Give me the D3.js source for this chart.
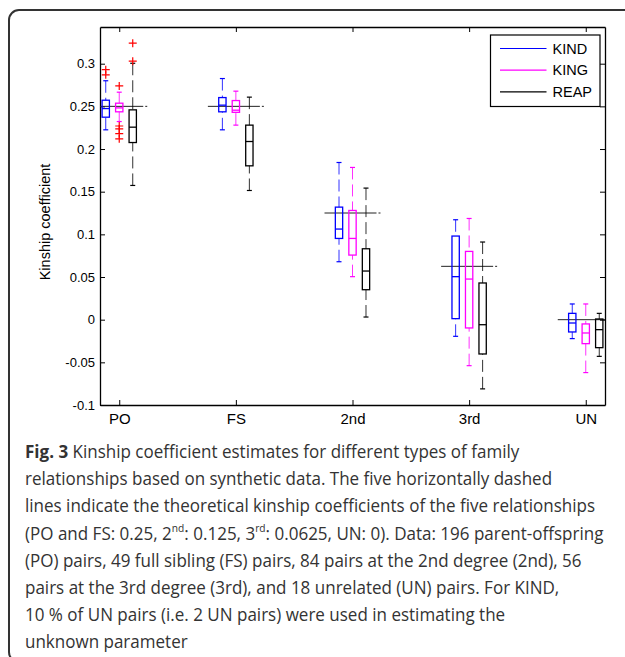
<!DOCTYPE html>
<html><head><meta charset="utf-8">
<script src="https://cdn.jsdelivr.net/npm/d3@7"></script>
<style>
body{margin:0;background:#fff;}
svg{display:block;}
.mat text{font-family:"Liberation Sans", Arimo, Arial, Helvetica, sans-serif !important;}
</style></head><body>
<svg id="chart" width="625" height="657"></svg>
<script>
const categories = ["PO","FS","2nd","3rd","UN"];
const methods = ["KIND","KING","REAP"];
const methodColors = ["#0000ff","#ff00ff","#000000"];
const theoretical = [0.25, 0.25, 0.125, 0.0625, 0];
// per category: [lower whisker, Q1, median, Q3, upper whisker]
const kindStats = [
  [0.2225, 0.2373, 0.2474, 0.2572, 0.2800],
  [0.2225, 0.2436, 0.2514, 0.2603, 0.2826],
  [0.0679, 0.0952, 0.1062, 0.1319, 0.1842],
  [-0.0195, 0.0012, 0.0504, 0.0980, 0.1171],
  [-0.0222, -0.0144, -0.0039, 0.0074, 0.0184]
];
const kingStats = [
  [0.2322, 0.2436, 0.2482, 0.2537, 0.2666],
  [0.2280, 0.2430, 0.2455, 0.2568, 0.2678],
  [0.0504, 0.0757, 0.0952, 0.1280, 0.1784],
  [-0.0539, -0.0097, 0.0476, 0.0800, 0.1186],
  [-0.0620, -0.0281, -0.0156, -0.0050, 0.0184]
];
const reapStats = [
  [0.1573, 0.2076, 0.2256, 0.2459, 0.3005],
  [0.1514, 0.1803, 0.2088, 0.2280, 0.2608],
  [0.0031, 0.0351, 0.0570, 0.0831, 0.1542],
  [-0.0811, -0.0402, -0.0059, 0.0430, 0.0910],
  [-0.0430, -0.0328, -0.0117, 0.0008, 0.0074]
];
const kindOutliers = [[0.293, 0.287], [], [], [], []];
const kingOutliers = [[0.274, 0.227, 0.2235, 0.218, 0.212], [], [], [], []];
const reapOutliers = [[0.324, 0.303], [], [], [], []];
const yTicks = [-0.1, -0.05, 0, 0.05, 0.1, 0.15, 0.2, 0.25, 0.3];
const yLabel = "Kinship coefficient";
const captionLines = [
  [{t:"Fig. 3", b:true}, {t:" Kinship coefficient estimates for different types of family"}],
  [{t:"relationships based on synthetic data. The five horizontally dashed"}],
  [{t:"lines indicate the theoretical kinship coefficients of the five relationships"}],
  [{t:"(PO and FS: 0.25, 2"}, {t:"nd", sup:true}, {t:": 0.125, 3"}, {t:"rd", sup:true}, {t:": 0.0625, UN: 0). Data: 196 parent-offspring"}],
  [{t:"(PO) pairs, 49 full sibling (FS) pairs, 84 pairs at the 2nd degree (2nd), 56"}],
  [{t:"pairs at the 3rd degree (3rd), and 18 unrelated (UN) pairs. For KIND,"}],
  [{t:"10 % of UN pairs (i.e. 2 UN pairs) were used in estimating the"}],
  [{t:"unknown parameter"}]
];

const allStats = [kindStats, kingStats, reapStats];
const allOutliers = [kindOutliers, kingOutliers, reapOutliers];

const svg = d3.select("#chart");
const M = {left:100, right:605, top:27, bottom:405};
const x = d3.scaleLinear().domain([0.835, 5.165]).range([M.left, M.right]);
const y = d3.scaleLinear().domain([-0.1, 0.343]).range([M.bottom, M.top]);
const offset = 0.1157, boxHalf = 0.0314, capHalf = 0.0214;
const font = "Liberation Sans";

// outer frame
svg.append("rect").attr("x",9).attr("y",10).attr("width",700).attr("height",652)
  .attr("rx",10).attr("fill","none").attr("stroke","#333").attr("stroke-width",2);

svg.append("defs").append("clipPath").attr("id","plotclip")
  .append("rect").attr("x",M.left).attr("y",M.top).attr("width",M.right-M.left).attr("height",M.bottom-M.top);

const chart = svg.append("g").attr("class","mat");

// axes
const yFmt = d => String(+d.toFixed(3));
const gl = chart.append("g").attr("transform",`translate(${M.left},0)`)
  .call(d3.axisLeft(y).tickValues(yTicks).tickFormat(yFmt).tickSizeInner(-5).tickSizeOuter(0).tickPadding(5));
const gr = chart.append("g").attr("transform",`translate(${M.right},0)`)
  .call(d3.axisRight(y).tickValues(yTicks).tickFormat("").tickSizeInner(-5).tickSizeOuter(0));
const gb = chart.append("g").attr("transform",`translate(0,${M.bottom})`)
  .call(d3.axisBottom(x).tickValues([1,2,3,4,5]).tickFormat((d,i)=>categories[i]).tickSizeInner(-5).tickSizeOuter(0).tickPadding(8));
const gt = chart.append("g").attr("transform",`translate(0,${M.top})`)
  .call(d3.axisTop(x).tickValues([1,2,3,4,5]).tickFormat("").tickSizeInner(-5).tickSizeOuter(0));
[gl,gr,gb,gt].forEach(g=>{
  g.attr("font-family", font);
  g.selectAll("path.domain").attr("stroke","#000").attr("stroke-width",1.3);
  g.selectAll(".tick line").attr("stroke","#000").attr("stroke-width",1);
  g.selectAll("text").attr("fill","#000");
});
gl.selectAll("text").attr("font-size",13);
gb.selectAll("text").attr("font-size",15);

// y label
chart.append("text").attr("transform","translate(50,222) rotate(-90)")
  .attr("text-anchor","middle").attr("font-size",14.5)
  .text(yLabel);

const plot = chart.append("g").attr("clip-path","url(#plotclip)");

// theoretical lines
plot.selectAll("line.theo").data(theoretical).join("line")
  .attr("x1",(d,i)=>x(i+1-0.24)).attr("x2",(d,i)=>x(i+1+0.24))
  .attr("y1",d=>y(d)).attr("y2",d=>y(d))
  .attr("stroke","#222").attr("stroke-width",1).attr("stroke-dasharray","52,2");

// boxes
allStats.forEach((stats, m) => {
  const col = methodColors[m];
  const g = plot.append("g");
  stats.forEach((s, i) => {
    const cx = i + 1 + (m - 1) * offset;
    const [lo, q1, med, q3, hi] = s;
    g.append("line").attr("x1",x(cx)).attr("x2",x(cx)).attr("y1",y(hi)).attr("y2",y(q3))
      .attr("stroke",col).attr("stroke-width",1).attr("stroke-dasharray","12,5").attr("opacity",0.8);
    g.append("line").attr("x1",x(cx)).attr("x2",x(cx)).attr("y1",y(lo)).attr("y2",y(q1))
      .attr("stroke",col).attr("stroke-width",1).attr("stroke-dasharray","12,5").attr("opacity",0.8);
    [lo, hi].forEach(v => g.append("line").attr("x1",x(cx-capHalf)).attr("x2",x(cx+capHalf))
      .attr("y1",y(v)).attr("y2",y(v)).attr("stroke",col).attr("stroke-width",1.2));
    g.append("rect").attr("x",x(cx-boxHalf)).attr("width",x(cx+boxHalf)-x(cx-boxHalf))
      .attr("y",y(q3)).attr("height",y(q1)-y(q3)).attr("fill","none")
      .attr("stroke",col).attr("stroke-width",1.3);
    g.append("line").attr("x1",x(cx-boxHalf)).attr("x2",x(cx+boxHalf))
      .attr("y1",y(med)).attr("y2",y(med)).attr("stroke",col).attr("stroke-width",1.3);
    allOutliers[m][i].forEach(v => {
      const px = x(cx), py = y(v);
      g.append("path").attr("d",`M${px-4},${py}H${px+4}M${px},${py-4}V${py+4}`)
        .attr("stroke","#ff0000").attr("stroke-width",1.2).attr("fill","none");
    });
  });
});

// legend
const lg = chart.append("g");
lg.append("rect").attr("x",490.5).attr("y",35).attr("width",109.5).attr("height",71.5)
  .attr("fill","#fff").attr("stroke","#000").attr("stroke-width",1.2);
methods.forEach((name, k) => {
  const cy = 48.5 + k * 21.7;
  lg.append("line").attr("x1",500).attr("x2",546.5).attr("y1",cy).attr("y2",cy)
    .attr("stroke",methodColors[k]).attr("stroke-width",1.2);
  lg.append("text").attr("x",552.5).attr("y",cy+5.2)
    .attr("font-size",14.5).attr("fill","#000").text(name);
});

// caption
const capText = svg.append("g").attr("font-family","'Open Sans', 'Noto Sans', sans-serif")
  .attr("font-size",17.5).attr("fill","#333");
captionLines.forEach((segs, li) => {
  const t = capText.append("text").attr("x",25).attr("y",458 + li * 27.2);
  segs.forEach(s => {
    const ts = t.append("tspan").text(s.t);
    if (s.b) ts.attr("font-weight","bold");
    if (s.sup) ts.attr("baseline-shift","super").attr("font-size","0.6em");
  });
});
const widths = capText.selectAll("text").nodes().map(n => n.getComputedTextLength());
const sx = 579 / d3.max(widths);
capText.attr("transform",`translate(25,0) scale(${sx},1) translate(-25,0)`);
</script>
</body></html>
